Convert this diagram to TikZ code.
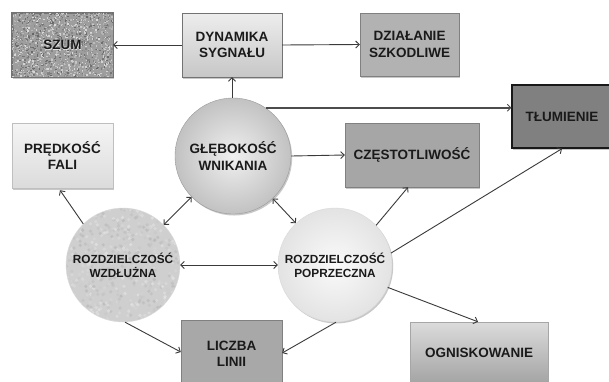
\documentclass[tikz,border=0pt]{standalone}
\usepackage{fontspec}
\setmainfont{Liberation Sans}
\usetikzlibrary{arrows.meta,shadows,calc}
\definecolor{txt}{HTML}{1A1A1A}
\definecolor{edge}{HTML}{3A3A3A}
\begin{document}
\begin{tikzpicture}[x=1pt,y=-1pt,
  base/.style={inner sep=0pt, align=center, text=txt, font=\bfseries\fontsize{13.5}{16.5}\selectfont},
  small/.style={base, font=\bfseries\fontsize{11.8}{14}\selectfont},
  shadowed/.style={drop shadow={shadow xshift=1.2pt,shadow yshift=-1.5pt,opacity=0.3,fill=black!70}},
  boxnode/.style={base, rectangle, shadowed},
  circnode/.style={base, circle, minimum size=#1},
  tip/.tip={Straight Barb[length=3.5pt,width=7pt,line width=0.9pt]},
  conn/.style={draw=edge, line width=0.9pt, -tip},
  biconn/.style={draw=edge, line width=0.9pt, tip-tip}
]
\useasboundingbox (0,0) rectangle (609,381);
\fill[white] (0,0) rectangle (609,381);

% boxes
\node[boxnode, draw=black!55, fill=black!38, minimum width=101pt, minimum height=64pt] (szum) at (62.5,45) {};
\begin{scope}
  \clip (szum.north west) rectangle (szum.south east);
  \pgfmathsetseed{7}
  \foreach \i in {1,...,1800}{
    \pgfmathsetmacro{\xx}{11+103*rnd}
    \pgfmathsetmacro{\yy}{12+66*rnd}
    \pgfmathsetmacro{\gg}{14+46*rnd}
    \fill[black!\gg] (\xx,\yy) rectangle ++(1.4,1.4);
  }
\end{scope}
\draw[black!55, line width=0.8pt] (szum.north west) rectangle (szum.south east);
\node[base, text=white, opacity=0.7] (szumglow) at ([xshift=0.6pt,yshift=-0.6pt]szum.center) {SZUM};
\node[base] (szumtxt) at (szum.center) {SZUM};

\node[boxnode, draw=black!55, top color=black!7, bottom color=black!22, minimum width=100pt, minimum height=64pt] (dyn) at (232,45) {DYNAMIKA\\SYGNAŁU};
\node[boxnode, draw=black!50, fill=black!30, minimum width=99pt, minimum height=63pt] (dzial) at (409.5,44.5) {DZIAŁANIE\\SZKODLIWE};
\node[boxnode, draw=black!25, top color=black!4, bottom color=black!14, minimum width=101pt, minimum height=65pt] (predk) at (62.5,155.5) {PRĘDKOŚĆ\\FALI};
\node[boxnode, draw=black!50, fill=black!35, minimum width=134pt, minimum height=64pt] (czest) at (412,155) {CZĘSTOTLIWOŚĆ};
\node[boxnode, draw=black!90, line width=1.2pt, fill=black!50, minimum width=100pt, minimum height=63pt] (tlum) at (562,116.5) {TŁUMIENIE};
\node[boxnode, draw=black!50, fill=black!34, minimum width=101pt, minimum height=68pt] (liczba) at (231.5,354) {LICZBA\\LINII};
\node[boxnode, draw=black!35, top color=black!14, bottom color=black!36, minimum width=138pt, minimum height=62pt] (ognisk) at (479,353) {OGNISKOWANIE};

% circles
\node[circnode=116pt, draw=black!40, inner color=black!6, outer color=black!24, shadowed] (gleb) at (233,156) {GŁĘBOKOŚĆ\\WNIKANIA};

\node[circle, minimum size=114pt, inner sep=0pt, fill=black!19, draw=black!14] (wzdl) at (123,265) {};
\begin{scope}
  \clip (wzdl.center) circle (56.5pt);
  \pgfmathsetseed{11}
  \foreach \i in {1,...,700}{
    \pgfmathsetmacro{\xx}{65+116*rnd}
    \pgfmathsetmacro{\yy}{207+116*rnd}
    \pgfmathsetmacro{\gg}{10+18*rnd}
    \fill[black!\gg, opacity=0.7] (\xx,\yy) circle (1.8pt);
  }
\end{scope}
\node[small] (wzdltxt) at (wzdl.center) {ROZDZIELCZOŚĆ\\WZDŁUŻNA};

\node[circnode=114pt, small, draw=black!15, inner color=black!2, outer color=black!11, shadowed] (poprz) at (335,265) {ROZDZIELCZOŚĆ\\POPRZECZNA};

% connectors
\draw[conn] (dyn.west) -- (szum.east);
\draw[conn] (dyn.east) -- (dzial.west);
\draw[conn] (gleb.north -| dyn.south) -- (dyn.south);
\draw[conn, line width=1.6pt, draw=black!70] (gleb.56) -- (gleb.56 -| tlum.west);
\draw[conn] (gleb.east) -- (czest.west);
\draw[biconn] (wzdl) -- (gleb);
\draw[biconn] (gleb) -- (poprz);
\draw[biconn] (wzdl) -- (poprz);
\draw[conn] (wzdl.134) -- ([xshift=-2.5pt,yshift=-2pt]predk.south);
\draw[conn] (wzdl.-88) -- ([yshift=2pt]liczba.west);
\draw[conn] (poprz.-89) -- ([yshift=1pt]liczba.east);
\draw[conn] (poprz.44) -- ([xshift=-4pt]czest.south);
\draw[conn] (poprz.12) -- (tlum.south);
\draw[conn] (poprz.-23) -- ([xshift=-1pt]ognisk.north);
\end{tikzpicture}
\end{document}
